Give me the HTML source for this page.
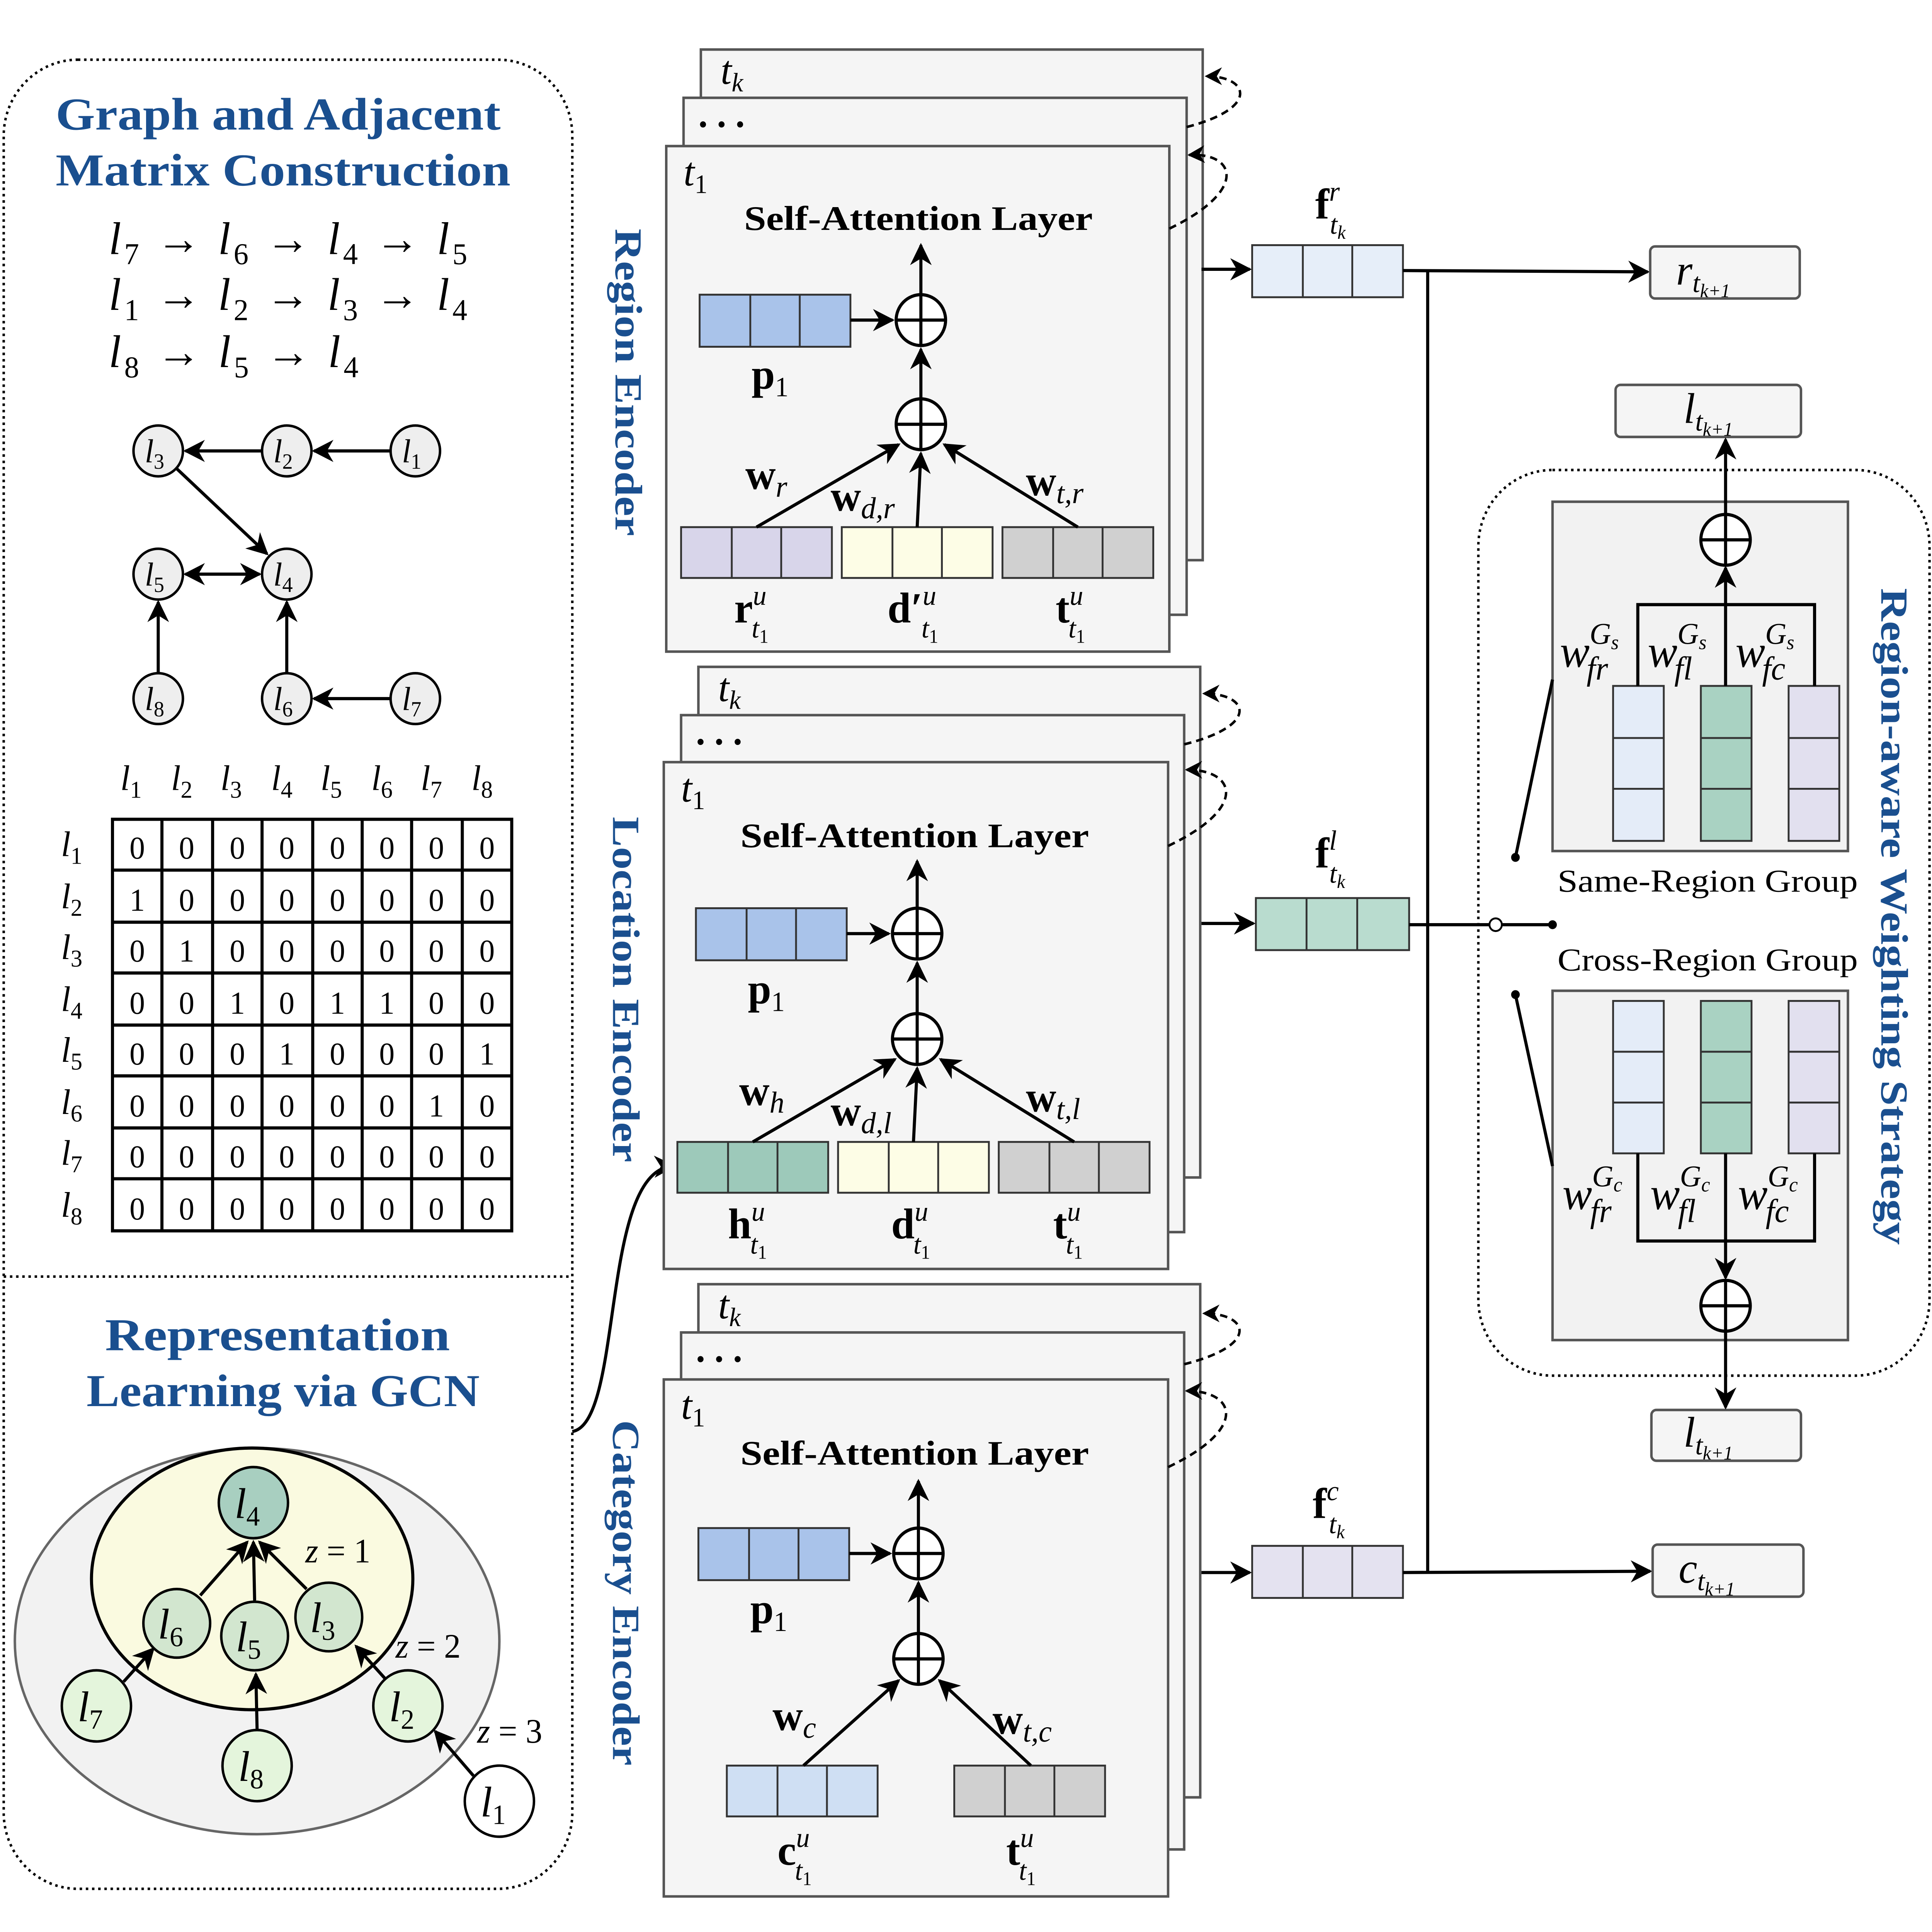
<!DOCTYPE html>
<html><head><meta charset="utf-8"><style>html,body{margin:0;padding:0;background:#fff;width:100%;height:100%;overflow:hidden}svg{position:absolute;left:0;top:0;width:100vw;height:100vh;display:block}</style></head><body>
<svg viewBox="0 0 1563 1521" preserveAspectRatio="none" xmlns="http://www.w3.org/2000/svg" font-family="Liberation Serif, serif">
<defs>
<marker id="a" viewBox="0 0 10 10" refX="9" refY="5" markerWidth="7" markerHeight="7" orient="auto-start-reverse"><path d="M0,0L10,5L0,10L3,5z" fill="#000"/></marker>
</defs>
<rect width="1563" height="1521" fill="#fff"/>
<rect x="3" y="47" width="460" height="1440" rx="60" fill="none" stroke="#000" stroke-width="2" stroke-dasharray="2,3"/>
<line x1="3" y1="1005" x2="463" y2="1005" stroke="#000" stroke-width="2" stroke-dasharray="2,3"/>
<g fill="#1a4f8f" font-weight="bold" font-size="36">
<text x="45" y="102" textLength="360" lengthAdjust="spacingAndGlyphs">Graph and Adjacent</text><text x="45" y="146" textLength="368" lengthAdjust="spacingAndGlyphs">Matrix Construction</text>
<text x="85" y="1063" textLength="279" lengthAdjust="spacingAndGlyphs">Representation</text><text x="70" y="1107" textLength="318" lengthAdjust="spacingAndGlyphs">Learning via GCN</text>
</g>
<g font-size="36" font-style="italic">
<text x="88" y="200" textLength="290">l<tspan font-size="24" dy="8" font-style="normal">7</tspan><tspan dy="-8" font-style="normal"> → </tspan>l<tspan font-size="24" dy="8" font-style="normal">6</tspan><tspan dy="-8" font-style="normal"> → </tspan>l<tspan font-size="24" dy="8" font-style="normal">4</tspan><tspan dy="-8" font-style="normal"> → </tspan>l<tspan font-size="24" dy="8" font-style="normal">5</tspan></text>
<text x="88" y="244" textLength="290">l<tspan font-size="24" dy="8" font-style="normal">1</tspan><tspan dy="-8" font-style="normal"> → </tspan>l<tspan font-size="24" dy="8" font-style="normal">2</tspan><tspan dy="-8" font-style="normal"> → </tspan>l<tspan font-size="24" dy="8" font-style="normal">3</tspan><tspan dy="-8" font-style="normal"> → </tspan>l<tspan font-size="24" dy="8" font-style="normal">4</tspan></text>
<text x="88" y="289" textLength="202">l<tspan font-size="24" dy="8" font-style="normal">8</tspan><tspan dy="-8" font-style="normal"> → </tspan>l<tspan font-size="24" dy="8" font-style="normal">5</tspan><tspan dy="-8" font-style="normal"> → </tspan>l<tspan font-size="24" dy="8" font-style="normal">4</tspan></text>
</g>
<g stroke="#000" stroke-width="2.5" fill="none" marker-end="url(#a)">
<line x1="316" y1="355" x2="254" y2="355"/><line x1="212" y1="355" x2="150" y2="355"/>
<line x1="143" y1="369" x2="216" y2="436"/><line x1="150" y1="452" x2="210" y2="452" marker-start="url(#a)"/>
<line x1="128" y1="530" x2="128" y2="474"/><line x1="232" y1="530" x2="232" y2="474"/>
<line x1="316" y1="550" x2="254" y2="550"/>
</g>
<g fill="#eee" stroke="#000" stroke-width="2">
<circle cx="128" cy="355" r="20"/><circle cx="232" cy="355" r="20"/><circle cx="336" cy="355" r="20"/>
<circle cx="128" cy="452" r="20"/><circle cx="232" cy="452" r="20"/>
<circle cx="128" cy="550" r="20"/><circle cx="232" cy="550" r="20"/><circle cx="336" cy="550" r="20"/>
</g>
<g font-size="26" font-style="italic" text-anchor="middle">
<text x="125" y="364">l<tspan font-size="17" font-style="normal" dy="5">3</tspan></text><text x="229" y="364">l<tspan font-size="17" font-style="normal" dy="5">2</tspan></text><text x="333" y="364">l<tspan font-size="17" font-style="normal" dy="5">1</tspan></text>
<text x="125" y="461">l<tspan font-size="17" font-style="normal" dy="5">5</tspan></text><text x="229" y="461">l<tspan font-size="17" font-style="normal" dy="5">4</tspan></text>
<text x="125" y="559">l<tspan font-size="17" font-style="normal" dy="5">8</tspan></text><text x="229" y="559">l<tspan font-size="17" font-style="normal" dy="5">6</tspan></text><text x="333" y="559">l<tspan font-size="17" font-style="normal" dy="5">7</tspan></text>
</g>
<g font-size="28" font-style="italic" text-anchor="middle">
<text x="106" y="622">l<tspan font-size="19" font-style="normal" dy="6">1</tspan></text><text x="147" y="622">l<tspan font-size="19" font-style="normal" dy="6">2</tspan></text><text x="187" y="622">l<tspan font-size="19" font-style="normal" dy="6">3</tspan></text><text x="228" y="622">l<tspan font-size="19" font-style="normal" dy="6">4</tspan></text><text x="268" y="622">l<tspan font-size="19" font-style="normal" dy="6">5</tspan></text><text x="309" y="622">l<tspan font-size="19" font-style="normal" dy="6">6</tspan></text><text x="349" y="622">l<tspan font-size="19" font-style="normal" dy="6">7</tspan></text><text x="390" y="622">l<tspan font-size="19" font-style="normal" dy="6">8</tspan></text>
<text x="58" y="674">l<tspan font-size="19" font-style="normal" dy="6">1</tspan></text><text x="58" y="715">l<tspan font-size="19" font-style="normal" dy="6">2</tspan></text><text x="58" y="755">l<tspan font-size="19" font-style="normal" dy="6">3</tspan></text><text x="58" y="796">l<tspan font-size="19" font-style="normal" dy="6">4</tspan></text><text x="58" y="836">l<tspan font-size="19" font-style="normal" dy="6">5</tspan></text><text x="58" y="877">l<tspan font-size="19" font-style="normal" dy="6">6</tspan></text><text x="58" y="917">l<tspan font-size="19" font-style="normal" dy="6">7</tspan></text><text x="58" y="958">l<tspan font-size="19" font-style="normal" dy="6">8</tspan></text>
</g>
<g stroke="#000" stroke-width="2.5" fill="none">
<rect x="91" y="645" width="323" height="324"/>
<path d="M131,645V969M172,645V969M212,645V969M253,645V969M293,645V969M333,645V969M374,645V969M91,685H414M91,726H414M91,766H414M91,807H414M91,847H414M91,888H414M91,928H414"/>
</g>
<g font-size="25" text-anchor="middle">
<text y="676"><tspan x="111">0</tspan><tspan x="151">0</tspan><tspan x="192">0</tspan><tspan x="232">0</tspan><tspan x="273">0</tspan><tspan x="313">0</tspan><tspan x="353">0</tspan><tspan x="394">0</tspan></text>
<text y="717"><tspan x="111">1</tspan><tspan x="151">0</tspan><tspan x="192">0</tspan><tspan x="232">0</tspan><tspan x="273">0</tspan><tspan x="313">0</tspan><tspan x="353">0</tspan><tspan x="394">0</tspan></text>
<text y="757"><tspan x="111">0</tspan><tspan x="151">1</tspan><tspan x="192">0</tspan><tspan x="232">0</tspan><tspan x="273">0</tspan><tspan x="313">0</tspan><tspan x="353">0</tspan><tspan x="394">0</tspan></text>
<text y="798"><tspan x="111">0</tspan><tspan x="151">0</tspan><tspan x="192">1</tspan><tspan x="232">0</tspan><tspan x="273">1</tspan><tspan x="313">1</tspan><tspan x="353">0</tspan><tspan x="394">0</tspan></text>
<text y="838"><tspan x="111">0</tspan><tspan x="151">0</tspan><tspan x="192">0</tspan><tspan x="232">1</tspan><tspan x="273">0</tspan><tspan x="313">0</tspan><tspan x="353">0</tspan><tspan x="394">1</tspan></text>
<text y="879"><tspan x="111">0</tspan><tspan x="151">0</tspan><tspan x="192">0</tspan><tspan x="232">0</tspan><tspan x="273">0</tspan><tspan x="313">0</tspan><tspan x="353">1</tspan><tspan x="394">0</tspan></text>
<text y="919"><tspan x="111">0</tspan><tspan x="151">0</tspan><tspan x="192">0</tspan><tspan x="232">0</tspan><tspan x="273">0</tspan><tspan x="313">0</tspan><tspan x="353">0</tspan><tspan x="394">0</tspan></text>
<text y="960"><tspan x="111">0</tspan><tspan x="151">0</tspan><tspan x="192">0</tspan><tspan x="232">0</tspan><tspan x="273">0</tspan><tspan x="313">0</tspan><tspan x="353">0</tspan><tspan x="394">0</tspan></text>
</g>
<ellipse cx="208" cy="1292" rx="196" ry="152" fill="#f2f2f2" stroke="#666" stroke-width="2"/>
<ellipse cx="204" cy="1243" rx="130" ry="103" fill="#fafae0" stroke="#000" stroke-width="2.5"/>
<g stroke="#000" stroke-width="2.5" marker-end="url(#a)">
<line x1="162" y1="1256" x2="200" y2="1214"/><line x1="206" y1="1260" x2="205" y2="1214"/><line x1="248" y1="1251" x2="210" y2="1214"/>
<line x1="100" y1="1324" x2="124" y2="1298"/><line x1="208" y1="1362" x2="207" y2="1318"/><line x1="312" y1="1322" x2="288" y2="1296"/><line x1="383" y1="1398" x2="352" y2="1363"/>
</g>
<g stroke="#000" stroke-width="2">
<circle cx="205" cy="1183" r="28" fill="#a8cfc0"/>
<circle cx="143" cy="1278" r="27" fill="#d2e6cf"/><circle cx="206" cy="1288" r="27" fill="#d2e6cf"/><circle cx="266" cy="1273" r="27" fill="#d2e6cf"/>
<circle cx="78" cy="1343" r="28" fill="#e4f5dc"/><circle cx="208" cy="1390" r="28" fill="#e4f5dc"/><circle cx="330" cy="1343" r="28" fill="#e4f5dc"/>
<circle cx="404" cy="1418" r="28" fill="#fff"/>
</g>
<g font-size="34" font-style="italic" text-anchor="middle">
<text x="200" y="1195">l<tspan font-size="22" font-style="normal" dy="6">4</tspan></text>
<text x="138" y="1290">l<tspan font-size="22" font-style="normal" dy="6">6</tspan></text><text x="201" y="1300">l<tspan font-size="22" font-style="normal" dy="6">5</tspan></text><text x="261" y="1285">l<tspan font-size="22" font-style="normal" dy="6">3</tspan></text>
<text x="73" y="1355">l<tspan font-size="22" font-style="normal" dy="6">7</tspan></text><text x="203" y="1402">l<tspan font-size="22" font-style="normal" dy="6">8</tspan></text><text x="325" y="1355">l<tspan font-size="22" font-style="normal" dy="6">2</tspan></text><text x="399" y="1430">l<tspan font-size="22" font-style="normal" dy="6">1</tspan></text>
</g>
<g font-size="27" font-style="italic"><text x="247" y="1230">z <tspan font-style="normal">= 1</tspan></text><text x="320" y="1305">z <tspan font-style="normal">= 2</tspan></text><text x="386" y="1372">z <tspan font-style="normal">= 3</tspan></text></g>
<path d="M463,1127 C505,1120 485,920 545,918" fill="none" stroke="#000" stroke-width="2.5" marker-end="url(#a)"/>

<g fill="#f5f5f5" stroke="#555" stroke-width="2">
<rect x="567" y="39" width="406" height="402"/><rect x="553" y="77" width="407" height="407"/><rect x="539" y="115" width="407" height="398"/>
<rect x="565" y="525" width="406" height="402"/><rect x="551" y="563" width="407" height="407"/><rect x="537" y="600" width="408" height="399"/>
<rect x="565" y="1011" width="406" height="404"/><rect x="551" y="1049" width="407" height="407"/><rect x="537" y="1086" width="408" height="407"/>
</g>
<g font-size="32" font-style="italic">
<text x="583" y="66">t<tspan font-size="21" dy="6">k</tspan></text><text x="553" y="146">t<tspan font-size="21" font-style="normal" dy="6">1</tspan></text>
<text x="581" y="552">t<tspan font-size="21" dy="6">k</tspan></text><text x="551" y="631">t<tspan font-size="21" font-style="normal" dy="6">1</tspan></text>
<text x="581" y="1038">t<tspan font-size="21" dy="6">k</tspan></text><text x="551" y="1117">t<tspan font-size="21" font-style="normal" dy="6">1</tspan></text>
</g>
<g font-size="30" font-weight="bold"><text x="565" y="100">. . .</text><text x="563" y="586">. . .</text><text x="563" y="1072">. . .</text></g>
<g font-size="27" font-weight="bold"><text x="602" y="181" textLength="282" lengthAdjust="spacingAndGlyphs">Self-Attention Layer</text><text x="599" y="667" textLength="282" lengthAdjust="spacingAndGlyphs">Self-Attention Layer</text><text x="599" y="1153" textLength="282" lengthAdjust="spacingAndGlyphs">Self-Attention Layer</text></g>
<g fill="none" stroke="#000" stroke-width="2" stroke-dasharray="6,4" marker-end="url(#a)">
<path d="M946,180 C1010,150 1000,120 962,122"/><path d="M960,100 C1020,85 1010,60 976,60"/>
<path d="M945,666 C1010,636 1000,606 960,606"/><path d="M958,586 C1020,571 1010,546 974,546"/>
<path d="M945,1155 C1010,1125 1000,1095 960,1095"/><path d="M958,1074 C1020,1059 1010,1034 974,1034"/>
</g>
<g stroke="#333" stroke-width="1.5">
<g fill="#a9c3ea"><rect x="566" y="232" width="122" height="41"/><rect x="563" y="715" width="122" height="41"/><rect x="565" y="1203" width="122" height="41"/></g>
<rect x="551" y="415" width="122" height="40" fill="#d8d5ea"/><rect x="681" y="415" width="122" height="40" fill="#fdfde6"/><rect x="811" y="415" width="122" height="40" fill="#d0d0d0"/>
<rect x="548" y="899" width="122" height="40" fill="#9dc9ba"/><rect x="678" y="899" width="122" height="40" fill="#fdfde6"/><rect x="808" y="899" width="122" height="40" fill="#d0d0d0"/>
<rect x="588" y="1390" width="122" height="40" fill="#cfdff3"/><rect x="772" y="1390" width="122" height="40" fill="#d0d0d0"/>
<path fill="none" d="M607,232v41M647,232v41M604,715v41M644,715v41M606,1203v41M646,1203v41M592,415v40M632,415v40M722,415v40M762,415v40M852,415v40M892,415v40M589,899v40M629,899v40M719,899v40M759,899v40M849,899v40M889,899v40M629,1390v40M669,1390v40M813,1390v40M853,1390v40"/>
</g>
<g stroke="#000" stroke-width="2.5" fill="none" marker-end="url(#a)">
<line x1="688" y1="252" x2="722" y2="252"/><line x1="745" y1="314" x2="745" y2="275"/><line x1="745" y1="232" x2="745" y2="193"/>
<line x1="612" y1="415" x2="727" y2="350"/><line x1="742" y1="415" x2="745" y2="357"/><line x1="872" y1="415" x2="764" y2="350"/>
<line x1="685" y1="735" x2="719" y2="735"/><line x1="742" y1="798" x2="742" y2="758"/><line x1="742" y1="715" x2="742" y2="678"/>
<line x1="609" y1="899" x2="724" y2="834"/><line x1="739" y1="899" x2="742" y2="841"/><line x1="869" y1="899" x2="761" y2="834"/>
<line x1="687" y1="1223" x2="720" y2="1223"/><line x1="743" y1="1286" x2="743" y2="1246"/><line x1="743" y1="1203" x2="743" y2="1166"/>
<line x1="650" y1="1390" x2="727" y2="1323"/><line x1="834" y1="1390" x2="760" y2="1323"/>
</g>
<g fill="#fff" stroke="#000" stroke-width="2.5">
<circle cx="745" cy="252" r="20"/><circle cx="745" cy="334" r="20"/><circle cx="742" cy="735" r="20"/><circle cx="742" cy="818" r="20"/><circle cx="743" cy="1223" r="20"/><circle cx="743" cy="1306" r="20"/>
</g>
<path stroke="#000" stroke-width="2.5" d="M725,252h40M745,232v40M725,334h40M745,314v40M722,735h40M742,715v40M722,818h40M742,798v40M723,1223h40M743,1203v40M723,1306h40M743,1286v40"/>
<g font-size="34" font-weight="bold">
<text x="608" y="306">p<tspan font-size="22" font-weight="normal" dy="6">1</tspan></text>
<text x="605" y="790">p<tspan font-size="22" font-weight="normal" dy="6">1</tspan></text>
<text x="607" y="1278">p<tspan font-size="22" font-weight="normal" dy="6">1</tspan></text>
<text x="603" y="385">w<tspan font-size="24" font-weight="normal" font-style="italic" dy="6">r</tspan></text>
<text x="672" y="402">w<tspan font-size="24" font-weight="normal" font-style="italic" dy="6">d,r</tspan></text>
<text x="830" y="390">w<tspan font-size="24" font-weight="normal" font-style="italic" dy="6">t,r</tspan></text>
<text x="598" y="870">w<tspan font-size="24" font-weight="normal" font-style="italic" dy="6">h</tspan></text>
<text x="672" y="886">w<tspan font-size="24" font-weight="normal" font-style="italic" dy="6">d,l</tspan></text>
<text x="830" y="875">w<tspan font-size="24" font-weight="normal" font-style="italic" dy="6">t,l</tspan></text>
<text x="625" y="1362">w<tspan font-size="24" font-weight="normal" font-style="italic" dy="6">c</tspan></text>
<text x="803" y="1365">w<tspan font-size="24" font-weight="normal" font-style="italic" dy="6">t,c</tspan></text>
<text x="594" y="490">r<tspan font-size="22" font-weight="normal" font-style="italic" dy="-14">u</tspan><tspan font-size="22" font-weight="normal" font-style="italic" dx="-12" dy="26">t</tspan><tspan font-size="15" font-weight="normal" dy="4">1</tspan></text>
<text x="718" y="490">d′<tspan font-size="22" font-weight="normal" font-style="italic" dy="-14">u</tspan><tspan font-size="22" font-weight="normal" font-style="italic" dx="-12" dy="26">t</tspan><tspan font-size="15" font-weight="normal" dy="4">1</tspan></text>
<text x="854" y="490">t<tspan font-size="22" font-weight="normal" font-style="italic" dy="-14">u</tspan><tspan font-size="22" font-weight="normal" font-style="italic" dx="-12" dy="26">t</tspan><tspan font-size="15" font-weight="normal" dy="4">1</tspan></text>
<text x="589" y="975">h<tspan font-size="22" font-weight="normal" font-style="italic" dy="-14">u</tspan><tspan font-size="22" font-weight="normal" font-style="italic" dx="-12" dy="26">t</tspan><tspan font-size="15" font-weight="normal" dy="4">1</tspan></text>
<text x="721" y="975">d<tspan font-size="22" font-weight="normal" font-style="italic" dy="-14">u</tspan><tspan font-size="22" font-weight="normal" font-style="italic" dx="-12" dy="26">t</tspan><tspan font-size="15" font-weight="normal" dy="4">1</tspan></text>
<text x="852" y="975">t<tspan font-size="22" font-weight="normal" font-style="italic" dy="-14">u</tspan><tspan font-size="22" font-weight="normal" font-style="italic" dx="-12" dy="26">t</tspan><tspan font-size="15" font-weight="normal" dy="4">1</tspan></text>
<text x="629" y="1468">c<tspan font-size="22" font-weight="normal" font-style="italic" dy="-14">u</tspan><tspan font-size="22" font-weight="normal" font-style="italic" dx="-12" dy="26">t</tspan><tspan font-size="15" font-weight="normal" dy="4">1</tspan></text>
<text x="814" y="1468">t<tspan font-size="22" font-weight="normal" font-style="italic" dy="-14">u</tspan><tspan font-size="22" font-weight="normal" font-style="italic" dx="-12" dy="26">t</tspan><tspan font-size="15" font-weight="normal" dy="4">1</tspan></text>
<text x="1064" y="172">f<tspan font-size="22" font-weight="normal" font-style="italic" dy="-14">r</tspan><tspan font-size="22" font-weight="normal" font-style="italic" dx="-8" dy="26">t</tspan><tspan font-size="15" font-weight="normal" font-style="italic" dy="4">k</tspan></text>
<text x="1064" y="683">f<tspan font-size="22" font-weight="normal" font-style="italic" dy="-14">l</tspan><tspan font-size="22" font-weight="normal" font-style="italic" dx="-6" dy="26">t</tspan><tspan font-size="15" font-weight="normal" font-style="italic" dy="4">k</tspan></text>
<text x="1062" y="1195">f<tspan font-size="22" font-weight="normal" font-style="italic" dy="-14">c</tspan><tspan font-size="22" font-weight="normal" font-style="italic" dx="-8" dy="26">t</tspan><tspan font-size="15" font-weight="normal" font-style="italic" dy="4">k</tspan></text>
</g>
<g font-size="31" font-weight="bold" fill="#1a4f8f">
<text transform="translate(498,180) rotate(90)" textLength="242" lengthAdjust="spacingAndGlyphs">Region Encoder</text>
<text transform="translate(496,643) rotate(90)" textLength="272" lengthAdjust="spacingAndGlyphs">Location Encoder</text>
<text transform="translate(496,1118) rotate(90)" textLength="272" lengthAdjust="spacingAndGlyphs">Category Encoder</text>
<text transform="translate(1522,463) rotate(90)" textLength="517" lengthAdjust="spacingAndGlyphs">Region-aware Weighting Strategy</text>
</g>
<g stroke="#333" stroke-width="1.5">
<rect x="1013" y="193" width="122" height="41" fill="#e6eef9"/><rect x="1016" y="707" width="124" height="41" fill="#b9dccf"/><rect x="1013" y="1217" width="122" height="41" fill="#e4e2f0"/>
<path fill="none" d="M1054,193v41M1094,193v41M1057,707v41M1098,707v41M1054,1217v41M1094,1217v41"/>
</g>
<g stroke="#000" stroke-width="2.5" fill="none">
<line x1="972" y1="212" x2="1011" y2="212" marker-end="url(#a)"/><line x1="972" y1="727" x2="1014" y2="727" marker-end="url(#a)"/><line x1="972" y1="1238" x2="1011" y2="1238" marker-end="url(#a)"/>
<line x1="1155" y1="213" x2="1155" y2="1238"/>
<line x1="1135" y1="213" x2="1333" y2="214" marker-end="url(#a)"/><line x1="1135" y1="1238" x2="1335" y2="1237" marker-end="url(#a)"/>
<line x1="1140" y1="728" x2="1205" y2="728"/><line x1="1215" y1="728" x2="1256" y2="728"/>
</g>
<circle cx="1210" cy="728" r="5" fill="#fff" stroke="#000" stroke-width="1.5"/><circle cx="1256" cy="728" r="3.5"/>
<g fill="#f5f5f5" stroke="#555" stroke-width="2">
<rect x="1335" y="194" width="121" height="41" rx="4"/><rect x="1337" y="1216" width="122" height="41" rx="4"/>
<rect x="1307" y="303" width="150" height="41" rx="4"/><rect x="1336" y="1110" width="121" height="40" rx="4"/>
</g>
<g font-size="34" font-style="italic">
<text x="1356" y="224">r<tspan font-size="22" dy="6">t</tspan><tspan font-size="15" dy="4">k+1</tspan></text>
<text x="1358" y="1246">c<tspan font-size="22" dy="6">t</tspan><tspan font-size="15" dy="4">k+1</tspan></text>
<text x="1362" y="333">l<tspan font-size="22" dy="6">t</tspan><tspan font-size="15" dy="4">k+1</tspan></text>
<text x="1362" y="1139">l<tspan font-size="22" dy="6">t</tspan><tspan font-size="15" dy="4">k+1</tspan></text>
</g>
<rect x="1196" y="370" width="365" height="713" rx="60" fill="none" stroke="#000" stroke-width="2" stroke-dasharray="2,3"/>
<rect x="1256" y="395" width="239" height="275" fill="#f2f2f2" stroke="#555" stroke-width="2"/>
<rect x="1256" y="780" width="239" height="275" fill="#f2f2f2" stroke="#555" stroke-width="2"/>
<g stroke="#333" stroke-width="1.5">
<rect x="1305" y="540" width="41" height="122" fill="#e4ecf8"/><rect x="1376" y="540" width="41" height="122" fill="#a9d2c2"/><rect x="1447" y="540" width="41" height="122" fill="#e2e0ef"/>
<rect x="1305" y="788" width="41" height="120" fill="#e4ecf8"/><rect x="1376" y="788" width="41" height="120" fill="#a9d2c2"/><rect x="1447" y="788" width="41" height="120" fill="#e2e0ef"/>
<path fill="none" d="M1305,581h41M1305,621h41M1376,581h41M1376,621h41M1447,581h41M1447,621h41M1305,828h41M1305,868h41M1376,828h41M1376,868h41M1447,828h41M1447,868h41"/>
</g>
<g stroke="#000" stroke-width="2.5" fill="none">
<path d="M1325,540V476H1468V540M1396,540V476"/><path d="M1325,908V977H1468V908M1396,908V977"/>
<line x1="1396" y1="476" x2="1396" y2="447" marker-end="url(#a)"/><line x1="1396" y1="405" x2="1396" y2="346" marker-end="url(#a)"/>
<line x1="1396" y1="977" x2="1396" y2="1006" marker-end="url(#a)"/><line x1="1396" y1="1048" x2="1396" y2="1108" marker-end="url(#a)"/>
<line x1="1226" y1="675" x2="1256" y2="535"/><line x1="1226" y1="783" x2="1256" y2="918"/>
</g>
<g fill="#fff" stroke="#000" stroke-width="2.5"><circle cx="1396" cy="425" r="20"/><circle cx="1396" cy="1028" r="20"/></g>
<path stroke="#000" stroke-width="2.5" d="M1376,425h40M1396,405v40M1376,1028h40M1396,1008v40"/>
<circle cx="1226" cy="675" r="3.5"/><circle cx="1226" cy="783" r="3.5"/>
<g font-size="25"><text x="1260" y="702" textLength="243" lengthAdjust="spacingAndGlyphs">Same-Region Group</text><text x="1260" y="764" textLength="243" lengthAdjust="spacingAndGlyphs">Cross-Region Group</text></g>
<g font-size="36" font-style="italic">
<text x="1262" y="525">w<tspan font-size="24" dy="-18">G</tspan><tspan font-size="16" dy="4">s</tspan><tspan font-size="26" dx="-26" dy="24">fr</tspan></text>
<text x="1333" y="525">w<tspan font-size="24" dy="-18">G</tspan><tspan font-size="16" dy="4">s</tspan><tspan font-size="26" dx="-26" dy="24">fl</tspan></text>
<text x="1404" y="525">w<tspan font-size="24" dy="-18">G</tspan><tspan font-size="16" dy="4">s</tspan><tspan font-size="26" dx="-26" dy="24">fc</tspan></text>
<text x="1264" y="952">w<tspan font-size="24" dy="-18">G</tspan><tspan font-size="16" dy="4">c</tspan><tspan font-size="26" dx="-26" dy="24">fr</tspan></text>
<text x="1335" y="952">w<tspan font-size="24" dy="-18">G</tspan><tspan font-size="16" dy="4">c</tspan><tspan font-size="26" dx="-26" dy="24">fl</tspan></text>
<text x="1406" y="952">w<tspan font-size="24" dy="-18">G</tspan><tspan font-size="16" dy="4">c</tspan><tspan font-size="26" dx="-26" dy="24">fc</tspan></text>
</g>
</svg>
</body></html>
